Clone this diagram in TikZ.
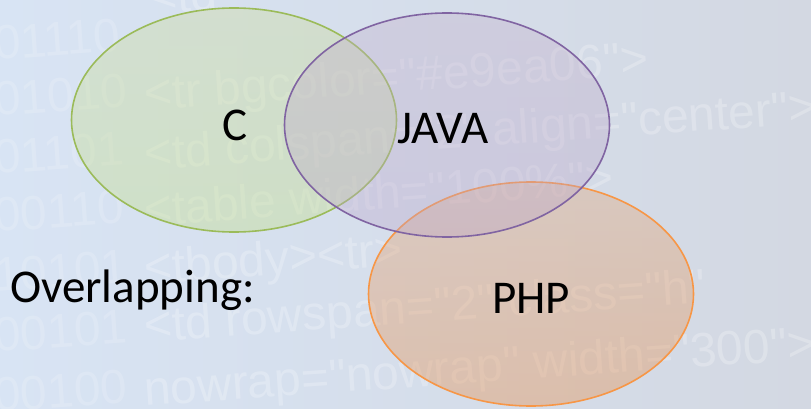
\documentclass[tikz,border=0pt]{standalone}
\usepackage{fontspec}
\setmainfont{Carlito}
\newfontfamily\codefont{Liberation Sans}
\usetikzlibrary{shapes.geometric}

% page background
\definecolor{bgleft}{RGB}{216,228,244}
\definecolor{bgright}{RGB}{211,216,226}
% set outlines
\definecolor{cgreen}{RGB}{155,187,89}
\definecolor{jpurple}{RGB}{128,100,162}
\definecolor{porange}{RGB}{247,150,70}
% set fills (used half transparent)
\definecolor{cgreentop}{RGB}{204,219,150}
\definecolor{cgreenbot}{RGB}{192,222,125}
\definecolor{jpurpletop}{RGB}{194,176,202}
\definecolor{jpurplebot}{RGB}{186,164,202}
\definecolor{porangetop}{RGB}{226,165,118}
\definecolor{porangebot}{RGB}{232,135,60}

\begin{document}
\begin{tikzpicture}[x=1pt,y=-1pt,
  codeline/.style={font=\codefont\fontsize{48}{48}\selectfont, text=white,
    text opacity=0.24, anchor=base west, inner sep=0pt, rotate=4},
  digitline/.style={codeline, text opacity=0.16},
  setshape/.style={ellipse, minimum width=325pt, minimum height=224pt,
    inner sep=0pt, line width=1.6pt, fill opacity=0.35, draw opacity=1},
  setlabel/.style={font=\fontsize{47}{47}\selectfont, text=black, inner sep=0pt}]
\useasboundingbox (0,0) rectangle (811,409);
\shade[left color=bgleft, right color=bgright] (0,0) rectangle (811,409);

% faint source code behind the sets
\begin{scope}
\clip (0,0) rectangle (811,409);
\node[digitline] (d1) at (-5,60)  {01110};
\node[digitline] (d2) at (-5,116) {01010};
\node[digitline] (d3) at (-5,174) {01101};
\node[digitline] (d4) at (-5,232) {00110};
\node[digitline] (d5) at (-5,292) {10101};
\node[digitline] (d6) at (-5,352) {00101};
\node[digitline] (d7) at (-5,412) {00100};
\node[codeline] (c0) at (150,14)  {<td};
\node[codeline] (c1) at (145,110) {<tr bgcolor="\#e9ea06">};
\node[codeline] (c2) at (145,170) {<td colspan="2" align="center">};
\node[codeline] (c3) at (145,226) {<table width="100\%">};
\node[codeline] (c4) at (145,284) {<tbody><tr>};
\node[codeline] (c5) at (145,342) {<td rowspan="2" class="h"};
\node[codeline] (c6) at (145,406) {nowrap="nowrap" width="300">};
\end{scope}

% the three sets
\node[setshape, draw=cgreen, top color=cgreentop, bottom color=cgreenbot]
  (cset) at (234,120) {};
\node[setshape, draw=porange, top color=porangetop, bottom color=porangebot]
  (pset) at (531,294) {};
\node[setshape, draw=jpurple, top color=jpurpletop, bottom color=jpurplebot]
  (jset) at (447,125) {};

% labels
\node[setlabel] (clab) at (235,125) {C};
\node[setlabel] (jlab) at (443,129) {JAVA};
\node[setlabel] (plab) at (531,298) {PHP};
\node[setlabel, anchor=base west] (title) at (10,302) {Overlapping:};
\end{tikzpicture}
\end{document}
